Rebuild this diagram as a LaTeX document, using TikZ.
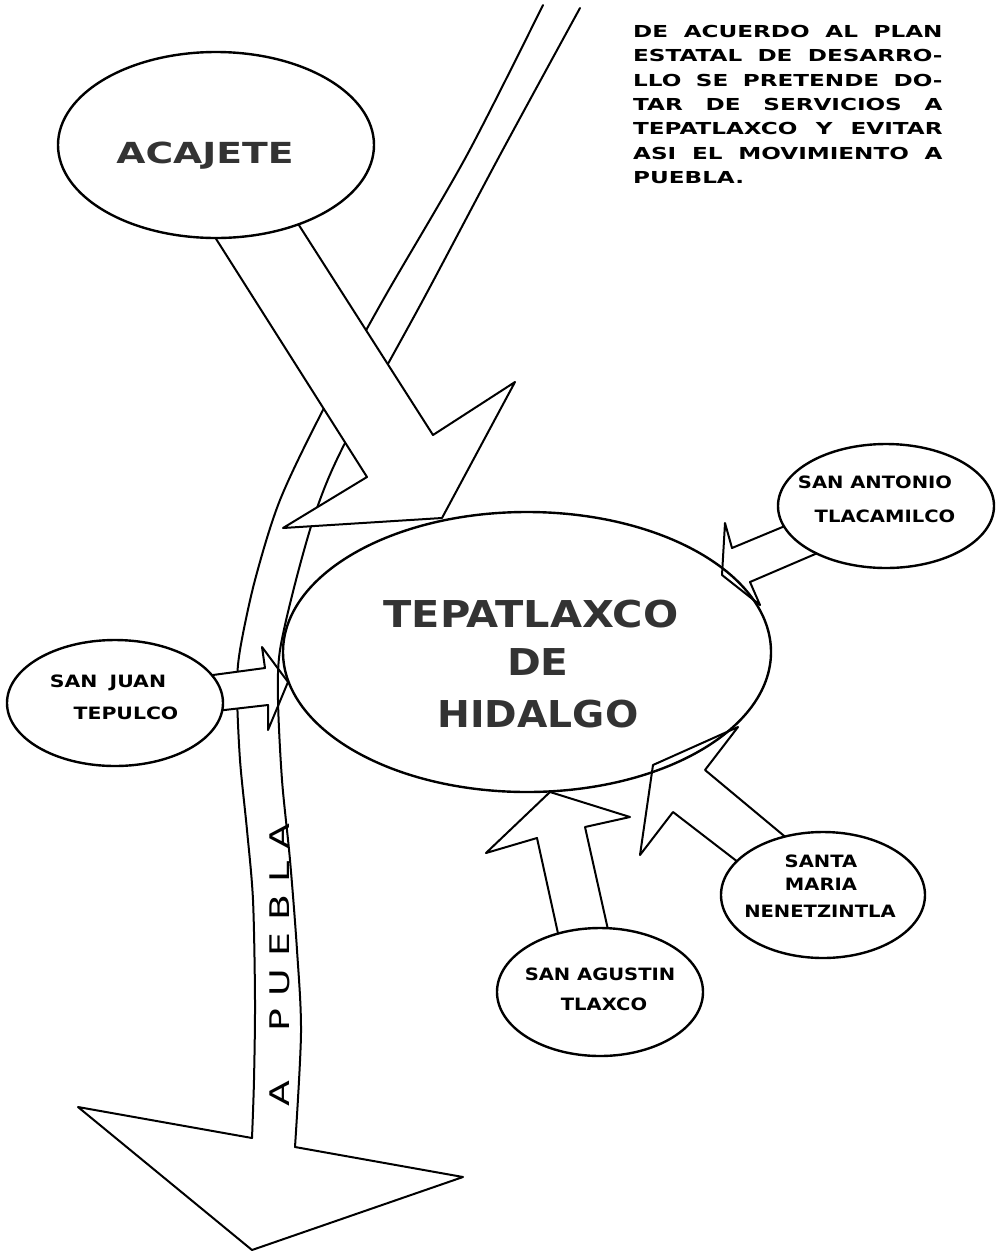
\documentclass[tikz,border=0pt]{standalone}
\usepackage{fontspec}
\setmainfont{DejaVu Sans}
\usepackage{graphicx}
\usetikzlibrary{shapes.geometric}
\newcommand\stretchx[2]{\scalebox{#1}[1]{#2}}
\begin{document}
\begin{tikzpicture}[x=1pt,y=-1pt,
  roadline/.style={line width=2pt, line join=round, line cap=round},
  blockarrow/.style={line width=2pt, fill=white, line join=round},
  town/.style={ellipse, draw, line width=2.4pt, fill=white, inner sep=0pt},
  biglbl/.style={inner sep=0pt, anchor=base, text=black!80, font=\fontsize{37}{37}\selectfont\bfseries},
  midlbl/.style={inner sep=0pt, anchor=base, text=black!80, font=\fontsize{29}{29}\selectfont\bfseries},
  lbl/.style={inner sep=0pt, anchor=base, font=\fontsize{17}{17}\selectfont\bfseries},
  note/.style={inner sep=0pt, anchor=base west, font=\fontsize{16.5}{16.5}\selectfont\bfseries}]
\useasboundingbox (0,0) rectangle (999,1254);

% named points of the road and its arrowhead
\coordinate (roadLend) at (252,1138);
\coordinate (roadRend) at (295,1147);
\coordinate (headL) at (78,1107);
\coordinate (headTip) at (252,1250);
\coordinate (headR) at (463,1177);

% left edge of the road
\draw[roadline] plot[smooth] coordinates {(543,5) (467,155) (383,300) (323,410) (280,500) (255,580) (240,650) (237,690) (240,760) (247,830) (253,900) (255,1000) (254,1080) (252,1138)};
\draw[roadline] (roadLend) -- (headL) -- (headTip) -- (headR) -- (roadRend);

% San Juan arrow (hides the left road edge)
\draw[blockarrow] (198,677) -- (265,668) -- (262,647) -- (288,682) -- (268,730) -- (268,705) -- (207,712) -- cycle;

% right edge of the road
\draw[roadline] plot[smooth] coordinates {(580,8) (500,155) (423,300) (345,443) (317,508) (296,580) (280,650) (278,700) (282,780) (290,860) (297,950) (301,1033) (295,1147)};

% Acajete arrow
\draw[blockarrow] (206,223) -- (367,477) -- (283,528) -- (442,518) -- (515,382) -- (433,435) -- (288,208) -- cycle;
% San Antonio arrow
\draw[blockarrow] (797,521) -- (732,548) -- (725,523) -- (722,575) -- (760,605) -- (750,582) -- (827,549) -- cycle;
% Santa Maria arrow
\draw[blockarrow] (795,845) -- (705,770) -- (738,727) -- (653,765) -- (640,855) -- (673,812) -- (747,869) -- cycle;
% San Agustin arrow
\draw[blockarrow] (561,947) -- (537,838) -- (486,853) -- (550,792) -- (630,817) -- (585,827) -- (611,943) -- cycle;

% towns
\node[town, minimum width=316, minimum height=186] (acajete) at (216,145) {};
\node[town, fill=none, minimum width=488, minimum height=280] (tepa) at (527,652) {};
\node[town, minimum width=216, minimum height=126] (sanjuan) at (115,703) {};
\node[town, minimum width=216, minimum height=124] (sanantonio) at (886,506) {};
\node[town, minimum width=204, minimum height=126] (santamaria) at (823,895) {};
\node[town, minimum width=206, minimum height=128] (sanagustin) at (600,992) {};

% labels
\node[midlbl] (acajetetxt) at (205,163) {\stretchx{1.3}{ACAJETE}};
\node[biglbl] (tepa1) at (531,627) {\stretchx{1.12}{TEPATLAXCO}};
\node[biglbl] (tepa2) at (538,675) {\stretchx{1.1}{DE}};
\node[biglbl] (tepa3) at (538,727) {\stretchx{1.06}{HIDALGO}};

\node[lbl] (sj1) at (108,687) {\stretchx{1.2}{SAN\hspace{0.6em}JUAN}};
\node[lbl] (sj2) at (126,719) {\stretchx{1.2}{TEPULCO}};
\node[lbl] (sa1) at (875,488) {\stretchx{1.15}{SAN ANTONIO}};
\node[lbl] (sa2) at (885,522) {\stretchx{1.15}{TLACAMILCO}};
\node[lbl] (sm1) at (821,867) {\stretchx{1.15}{SANTA}};
\node[lbl] (sm2) at (821,890) {\stretchx{1.15}{MARIA}};
\node[lbl] (sm3) at (820,917) {\stretchx{1.15}{NENETZINTLA}};
\node[lbl] (sg1) at (600,980) {\stretchx{1.15}{SAN AGUSTIN}};
\node[lbl] (sg2) at (604,1010) {\stretchx{1.15}{TLAXCO}};

\node[rotate=90, inner sep=0pt, font=\fontsize{27}{27}\selectfont] (roadtxt) at (280,965) {\stretchx{1.4}{A\hspace{35pt}P\hspace{8.6pt}U\hspace{8.6pt}E\hspace{8.6pt}B\hspace{8.6pt}L\hspace{8.6pt}A}};

% note
\node[note] (n1) at (633,37) {\stretchx{1.4}{\makebox[221pt][s]{DE ACUERDO AL PLAN}}};
\node[note] (n2) at (633,61) {\stretchx{1.4}{\makebox[221pt][s]{ESTATAL DE DESARRO-}}};
\node[note] (n3) at (633,86) {\stretchx{1.4}{\makebox[221pt][s]{LLO SE PRETENDE DO-}}};
\node[note] (n4) at (633,110) {\stretchx{1.4}{\makebox[221pt][s]{TAR DE SERVICIOS A}}};
\node[note] (n5) at (633,134) {\stretchx{1.4}{\makebox[221pt][s]{TEPATLAXCO Y EVITAR}}};
\node[note] (n6) at (633,159) {\stretchx{1.4}{\makebox[221pt][s]{ASI EL MOVIMIENTO A}}};
\node[note] (n7) at (633,183) {\stretchx{1.4}{PUEBLA.}};
\end{tikzpicture}
\end{document}
